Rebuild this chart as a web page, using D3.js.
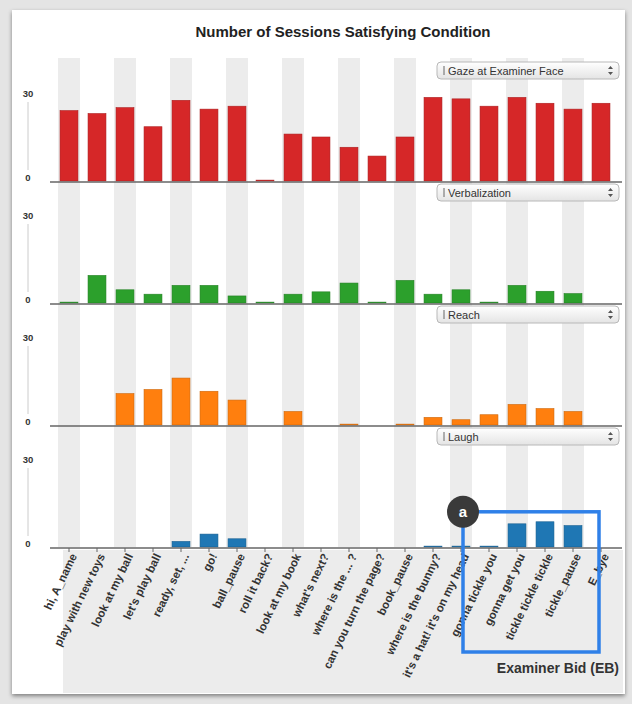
<!DOCTYPE html>
<html>
<head>
<meta charset="utf-8">
<script src="https://cdn.jsdelivr.net/npm/d3@7"></script>
<style>
  body { margin: 0; background: #e4e4e4; font-family: "Liberation Sans", Arial, sans-serif; }
</style>
</head>
<body>
<div id="chart"></div>
<script>
// bids made by the examiner (x categories)
var categories = ["hi, A_name", "play with new toys", "look at my ball", "let's play ball",
    "ready, set, ...", "go!", "ball_pause", "roll it back?", "look at my book", "what's next?",
    "where is the ... ?", "can you turn the page?", "book_pause", "where is the bunny?",
    "it's a hat! it's on my head", "gonna tickle you", "gonna get you", "tickle tickle tickle",
    "tickle_pause", "E_bye"];

// one small array per condition (number of sessions)
var gazeValues = [24, 23, 25, 18.5, 27.5, 24.5, 25.5, 0.3, 16, 15, 11.5, 8.5, 15, 28.5, 28, 25.5, 28.5, 26.5, 24.5, 26.5];
var verbalValues = [0.3, 9.4, 4.5, 3, 6, 6, 2.4, 0.3, 3, 3.8, 6.8, 0.3, 7.7, 3, 4.5, 0.3, 6, 4, 3.2, 0];
var reachValues = [0, 0, 10.7, 12.1, 16, 11.5, 8.5, 0, 4.6, 0, 0.3, 0, 0.3, 2.6, 1.8, 3.5, 7, 5.6, 4.6, 0];
var laughValues = [0, 0, 0, 0, 1.9, 4.4, 2.8, 0, 0, 0, 0, 0, 0, 0.3, 0.3, 0.3, 7.9, 8.6, 7.3, 0];

var conditions = ["Gaze at Examiner Face", "Verbalization", "Reach", "Laugh"];
var yTicks = [0, 30];

var series = [gazeValues, verbalValues, reachValues, laughValues];
var colors = ["#d62728", "#2ca02c", "#ff7f0e", "#1f77b4"];

var width = 632;
var height = 704;

var svg = d3.select("#chart")
    .append("svg")
    .attr("width", width)
    .attr("height", height);

var defs = svg.append("defs");
var shadow = defs.append("filter").attr("id", "shadow").attr("x", "-5%").attr("y", "-5%").attr("width", "110%").attr("height", "112%");
shadow.append("feDropShadow").attr("dx", 0).attr("dy", 2).attr("stdDeviation", 2).attr("flood-color", "#000").attr("flood-opacity", 0.45);

var grad = defs.append("linearGradient").attr("id", "selgrad").attr("x1", 0).attr("y1", 0).attr("x2", 0).attr("y2", 1);
grad.append("stop").attr("offset", "0%").attr("stop-color", "#ffffff");
grad.append("stop").attr("offset", "100%").attr("stop-color", "#e4e4e4");

// white card
svg.append("rect")
    .attr("x", 12).attr("y", 10)
    .attr("width", 613).attr("height", 684)
    .attr("fill", "#fff")
    .attr("filter", "url(#shadow)");

// grey area behind the rotated labels
svg.append("rect")
    .attr("x", 63).attr("y", 550)
    .attr("width", 560).attr("height", 143)
    .attr("fill", "#ececec");

// title
svg.append("text")
    .attr("x", 343).attr("y", 37)
    .attr("text-anchor", "middle")
    .style("font-size", "15px")
    .style("font-weight", "bold")
    .attr("fill", "#222")
    .text("Number of Sessions Satisfying Condition");

// x scale shared by all panels
var x = d3.scaleBand()
    .domain(categories)
    .range([55, 615])
    .paddingInner(0.36)
    .paddingOuter(0.18);

var panelStep = 122;
var firstBase = 181;
var panelH = 88;

// alternating stripes
svg.append("g")
    .selectAll("rect")
    .data(categories.filter(function(d, i) { return i % 2 == 0; }))
    .enter()
    .append("rect")
    .attr("x", function(d) { return x(d) + x.bandwidth() / 2 - 11; })
    .attr("y", 58)
    .attr("width", 22)
    .attr("height", firstBase + 3 * panelStep - 58)
    .attr("fill", "#ececec");

var yScales = [];

series.forEach(function(values, p) {
    var base = firstBase + p * panelStep;
    var y = d3.scaleLinear().domain([0, 30]).range([base, base - panelH]);
    yScales.push(y);
    var g = svg.append("g");

    // bars
    g.selectAll("rect.bar")
        .data(values)
        .enter()
        .append("rect")
        .attr("class", "bar")
        .attr("x", function(d, i) { return x(categories[i]); })
        .attr("width", x.bandwidth())
        .attr("y", function(d) { return y(d); })
        .attr("height", function(d) { return y(0) - y(d); })
        .attr("fill", colors[p])
        .attr("stroke", function(d) { return d > 0 ? d3.color(colors[p]).darker(0.6) : "none"; })
        .attr("stroke-width", 0.6);

    // baseline
    g.append("line")
        .attr("x1", 50).attr("x2", 622)
        .attr("y1", base + 1).attr("y2", base + 1)
        .attr("stroke", "#666")
        .attr("stroke-width", 1.4);

    // y axis: thin line between two labels
    g.append("line")
        .attr("x1", 28).attr("x2", 28)
        .attr("y1", y(30) + 9).attr("y2", y(0) - 11)
        .attr("stroke", "#ccc");

    g.selectAll("text.ylab")
        .data(yTicks)
        .enter()
        .append("text")
        .attr("class", "ylab")
        .attr("x", 28)
        .attr("y", function(d) { return d == 0 ? y(d) : y(d) + 3.5; })
        .attr("text-anchor", "middle")
        .style("font-size", "9.5px")
        .style("font-weight", "bold")
        .style("fill", "#333")
        .text(function(d) { return d; });

    // drop-down box
    var sel = g.append("g").attr("transform", "translate(437," + (base - 119) + ")");
    sel.append("rect")
        .attr("width", 182).attr("height", 17).attr("rx", 4)
        .attr("fill", "url(#selgrad)")
        .attr("stroke", "#b8b8b8");
    sel.append("line")
        .attr("x1", 7).attr("x2", 7).attr("y1", 4).attr("y2", 13)
        .attr("stroke", "#666");
    sel.append("text")
        .attr("x", 11).attr("y", 12.5)
        .style("font-size", "11px")
        .attr("fill", "#333")
        .text(conditions[p]);
    sel.append("path")
        .attr("d", "M171,7 l2.5,-3 l2.5,3 Z M171,10 l2.5,3 l2.5,-3 Z")
        .attr("fill", "#555");
});

// bottom axis with rotated labels
var lastBase = firstBase + 3 * panelStep;
var xAxis = svg.append("g")
    .attr("transform", "translate(0," + (lastBase + 1) + ")")
    .call(d3.axisBottom(x).tickSize(4).tickPadding(3));

xAxis.select(".domain").remove();
xAxis.selectAll(".tick line").attr("stroke", "#666");
xAxis.selectAll(".tick text")
    .attr("text-anchor", "end")
    .attr("transform", "rotate(-64)")
    .attr("dx", "-0.3em")
    .attr("dy", "0.35em")
    .style("font-size", "11.5px")
    .style("font-weight", "bold")
    .style("font-family", "'Liberation Sans', Arial, sans-serif")
    .attr("fill", "#333");

svg.append("text")
    .attr("x", 619).attr("y", 673)
    .attr("text-anchor", "end")
    .style("font-size", "14px")
    .style("font-weight", "bold")
    .attr("fill", "#333")
    .text("Examiner Bid (EB)");

// annotation box around the tickle bids
var yL = yScales[3];
var boxL = x(categories[14]) + x.bandwidth() / 2 + 2;
var boxR = x(categories[19]) + x.bandwidth() / 2 - 2;
var boxT = yL(12);
var boxB = 652;
svg.append("rect")
    .attr("x", boxL).attr("y", boxT)
    .attr("width", boxR - boxL).attr("height", boxB - boxT)
    .attr("fill", "none")
    .attr("stroke", "#2f80e8")
    .attr("stroke-width", 3.5);

svg.append("circle")
    .attr("cx", boxL).attr("cy", boxT)
    .attr("r", 16)
    .attr("fill", "#3a3a3a");
svg.append("text")
    .attr("x", boxL).attr("y", boxT + 5)
    .attr("text-anchor", "middle")
    .style("font-size", "15px")
    .style("font-weight", "bold")
    .attr("fill", "#fff")
    .text("a");
</script>
</body>
</html>
